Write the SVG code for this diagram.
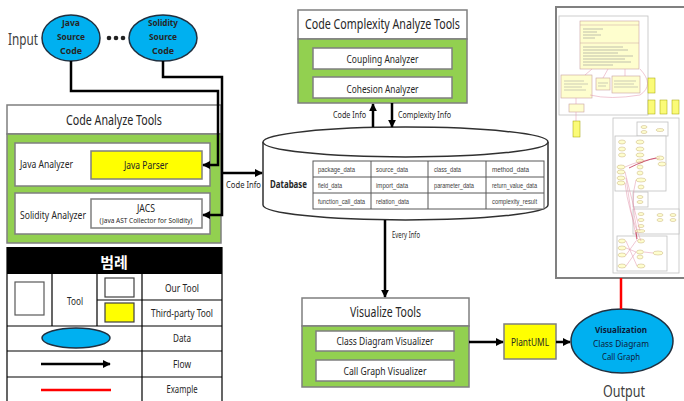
<svg xmlns="http://www.w3.org/2000/svg" width="684" height="401" viewBox="0 0 684 401">
<defs>
<marker id="ah" viewBox="0 0 10 10" refX="9" refY="5" markerWidth="3.2" markerHeight="3.2" orient="auto" markerUnits="strokeWidth">
<path d="M0,0 L10,5 L0,10 z" fill="#000"/>
</marker>
<style>
text{font-family:"Noto Sans","Noto Sans CJK KR",sans-serif;fill:#262626}
.hdr{fill:#fff;stroke:#7f7f7f;stroke-width:1.5}
.grn{fill:#92d050;stroke:#7f7f7f;stroke-width:1.5}
.box{fill:#fff;stroke:#7f7f7f;stroke-width:1.5}
.yel{fill:#ffff00;stroke:#7f7f7f;stroke-width:1.5}
.ell{fill:#00b0f0;stroke:#203040;stroke-width:1.5}
.flow{fill:none;stroke:#000;stroke-width:2.5;marker-end:url(#ah)}
.lg{stroke:#000;stroke-width:1.2;fill:none}
.cell{font-family:"Liberation Sans",sans-serif;font-size:6.5px;fill:#404040}
.cls{fill:#fefece;stroke:#c8a0a0;stroke-width:0.6}
.note{fill:#fbfb77;stroke:#a0a000;stroke-width:0.5}
.pan{fill:#fff;stroke:#c0c0c0;stroke-width:0.8}
.uc{fill:#fefece;stroke:#c8b080;stroke-width:0.5}
.ed{fill:none;stroke:#e090a8;stroke-width:0.5}
.vz{fill:#0d1b3a}
</style>
</defs>

<!-- Input -->
<g id="input-label"><text x="8" y="45" font-size="17" textLength="30" lengthAdjust="spacingAndGlyphs" style="fill:#404040">Input</text></g>
<g id="java-source">
<ellipse class="ell" cx="71" cy="38" rx="29" ry="23"/>
<text x="71" y="26" font-size="9.5" font-weight="bold" text-anchor="middle" textLength="18" lengthAdjust="spacingAndGlyphs">Java</text>
<text x="71" y="40" font-size="9.5" font-weight="bold" text-anchor="middle" textLength="28" lengthAdjust="spacingAndGlyphs">Source</text>
<text x="71" y="54" font-size="9.5" font-weight="bold" text-anchor="middle" textLength="22" lengthAdjust="spacingAndGlyphs">Code</text>
</g>
<g id="dots"><circle cx="109" cy="38" r="2.3" fill="#222"/><circle cx="116" cy="38" r="2.3" fill="#222"/><circle cx="123" cy="38" r="2.3" fill="#222"/></g>
<g id="solidity-source">
<ellipse class="ell" cx="163" cy="38" rx="34" ry="23"/>
<text x="163" y="26" font-size="9.5" font-weight="bold" text-anchor="middle" textLength="30" lengthAdjust="spacingAndGlyphs">Solidity</text>
<text x="163" y="40" font-size="9.5" font-weight="bold" text-anchor="middle" textLength="28" lengthAdjust="spacingAndGlyphs">Source</text>
<text x="163" y="54" font-size="9.5" font-weight="bold" text-anchor="middle" textLength="22" lengthAdjust="spacingAndGlyphs">Code</text>
</g>

<!-- Code Analyze Tools -->
<g id="code-analyze-tools">
<rect class="hdr" x="7" y="105" width="214" height="29"/>
<text x="114" y="125" font-size="14" text-anchor="middle" textLength="96" lengthAdjust="spacingAndGlyphs">Code Analyze Tools</text>
<rect class="grn" x="7" y="134" width="214" height="109"/>
<rect class="box" x="15" y="143" width="195" height="43"/>
<text x="20" y="168" font-size="10.5" textLength="53" lengthAdjust="spacingAndGlyphs">Java Analyzer</text>
<rect class="yel" x="91" y="151" width="111" height="28"/>
<text x="146" y="169" font-size="10.5" text-anchor="middle" textLength="44" lengthAdjust="spacingAndGlyphs">Java Parser</text>
<rect class="box" x="15" y="193" width="195" height="41"/>
<text x="20" y="219" font-size="10.5" textLength="66" lengthAdjust="spacingAndGlyphs">Solidity Analyzer</text>
<rect class="box" x="91" y="199" width="111" height="29"/>
<text x="146" y="212" font-size="10" text-anchor="middle" textLength="18" lengthAdjust="spacingAndGlyphs">JACS</text>
<text x="146" y="223" font-size="7" text-anchor="middle" textLength="93" lengthAdjust="spacingAndGlyphs">(Java AST Collector for Solidity)</text>
</g>

<!-- Legend -->
<g id="legend">
<rect x="7" y="247" width="215" height="27" fill="#000"/>
<text x="114" y="268" font-size="15" font-weight="bold" text-anchor="middle" style="fill:#fff;font-family:'Noto Sans CJK KR',sans-serif">범례</text>
<path class="lg" d="M7,247 V402 M222,247 V402 M7,326 H222 M7,351 H222 M7,377 H222 M52,274 V326 M97,274 V326 M142,274 V402 M97,300 H222"/>
<rect x="15" y="282" width="29" height="33" fill="#fff" stroke="#595959" stroke-width="1.2"/>
<rect x="105" y="278" width="29" height="19" fill="#fff" stroke="#404040" stroke-width="1.2"/>
<rect x="105" y="303" width="29" height="19" fill="#ffff00" stroke="#404040" stroke-width="1.2"/>
<ellipse class="ell" cx="76" cy="338" rx="34" ry="10"/>
<line x1="41" y1="364" x2="110" y2="364" class="flow"/>
<line x1="41" y1="390" x2="111" y2="390" stroke="#ff0000" stroke-width="2.5"/>
<text x="75" y="305" font-size="10" text-anchor="middle" textLength="16" lengthAdjust="spacingAndGlyphs">Tool</text>
<text x="182" y="292" font-size="10" text-anchor="middle" textLength="34" lengthAdjust="spacingAndGlyphs">Our Tool</text>
<text x="182" y="317" font-size="10" text-anchor="middle" textLength="62" lengthAdjust="spacingAndGlyphs">Third-party Tool</text>
<text x="182" y="342" font-size="10" text-anchor="middle" textLength="18" lengthAdjust="spacingAndGlyphs">Data</text>
<text x="182" y="368" font-size="10" text-anchor="middle" textLength="18" lengthAdjust="spacingAndGlyphs">Flow</text>
<text x="182" y="393" font-size="10" text-anchor="middle" textLength="31" lengthAdjust="spacingAndGlyphs">Example</text>
</g>

<!-- Code Complexity Analyze Tools -->
<g id="code-complexity-tools">
<rect class="hdr" x="298" y="10" width="169" height="29"/>
<text x="382.5" y="29" font-size="14" text-anchor="middle" textLength="155" lengthAdjust="spacingAndGlyphs">Code Complexity Analyze Tools</text>
<rect class="grn" x="298" y="39" width="169" height="64"/>
<rect class="box" x="313" y="48" width="139" height="21"/>
<text x="382.5" y="63" font-size="10.5" text-anchor="middle" textLength="72" lengthAdjust="spacingAndGlyphs">Coupling Analyzer</text>
<rect class="box" x="313" y="77" width="139" height="21"/>
<text x="382.5" y="93" font-size="10.5" text-anchor="middle" textLength="72" lengthAdjust="spacingAndGlyphs">Cohesion Analyzer</text>
</g>

<!-- Database -->
<g id="database">
<path d="M263,142 L263,205 A142.5,15 0 0 0 548,205 L548,142" fill="#fff" stroke="#303030" stroke-width="1.5"/>
<ellipse cx="405.5" cy="142" rx="142.5" ry="15" fill="#fff" stroke="#303030" stroke-width="1.5"/>
<text x="270" y="188" font-size="10.5" font-weight="bold" textLength="37" lengthAdjust="spacingAndGlyphs">Database</text>
<rect x="313" y="161" width="231" height="48" fill="#fff" stroke="#595959" stroke-width="1"/>
<path d="M313,177 H544 M313,193 H544 M371,161 V209 M428,161 V209 M486,161 V209" stroke="#595959" stroke-width="1" fill="none"/>
<text class="cell" x="318" y="172" textLength="37" lengthAdjust="spacingAndGlyphs">package_data</text>
<text class="cell" x="376" y="172" textLength="32" lengthAdjust="spacingAndGlyphs">source_data</text>
<text class="cell" x="434" y="172" textLength="27" lengthAdjust="spacingAndGlyphs">class_data</text>
<text class="cell" x="492" y="172" textLength="37" lengthAdjust="spacingAndGlyphs">method_data</text>
<text class="cell" x="318" y="188" textLength="24" lengthAdjust="spacingAndGlyphs">field_data</text>
<text class="cell" x="376" y="188" textLength="32" lengthAdjust="spacingAndGlyphs">import_data</text>
<text class="cell" x="434" y="188" textLength="40" lengthAdjust="spacingAndGlyphs">parameter_data</text>
<text class="cell" x="492" y="188" textLength="45" lengthAdjust="spacingAndGlyphs">return_value_data</text>
<text class="cell" x="318" y="204" textLength="47" lengthAdjust="spacingAndGlyphs">function_call_data</text>
<text class="cell" x="376" y="204" textLength="33" lengthAdjust="spacingAndGlyphs">relation_data</text>
<text class="cell" x="492" y="204" textLength="45" lengthAdjust="spacingAndGlyphs">complexity_result</text>
</g>

<!-- Visualize Tools -->
<g id="visualize-tools">
<rect class="hdr" x="302" y="298" width="167" height="28"/>
<text x="385.5" y="317" font-size="14" text-anchor="middle" textLength="71" lengthAdjust="spacingAndGlyphs">Visualize Tools</text>
<rect class="grn" x="302" y="326" width="167" height="61"/>
<rect class="box" x="316" y="331" width="138" height="20"/>
<text x="385" y="345" font-size="10.5" text-anchor="middle" textLength="97" lengthAdjust="spacingAndGlyphs">Class Diagram Visualizer</text>
<rect class="box" x="316" y="360" width="138" height="21"/>
<text x="385" y="375" font-size="10.5" text-anchor="middle" textLength="83" lengthAdjust="spacingAndGlyphs">Call Graph Visualizer</text>
</g>

<g id="plantuml">
<rect x="504" y="324" width="52" height="35" fill="#ffff00" stroke="#7f7f7f" stroke-width="1.5"/>
<text x="530" y="346" font-size="10" text-anchor="middle" textLength="38" lengthAdjust="spacingAndGlyphs">PlantUML</text>
</g>

<g id="visualization">
<ellipse cx="622" cy="341" rx="51" ry="32" fill="#00b0f0" stroke="#203040" stroke-width="1.5"/>
<text class="vz" x="621" y="333" font-size="9.5" font-weight="bold" text-anchor="middle" textLength="52" lengthAdjust="spacingAndGlyphs">Visualization</text>
<text class="vz" x="621" y="346.5" font-size="9.5" text-anchor="middle" textLength="56" lengthAdjust="spacingAndGlyphs">Class Diagram</text>
<text class="vz" x="621" y="360" font-size="9.5" text-anchor="middle" textLength="38" lengthAdjust="spacingAndGlyphs">Call Graph</text>
</g>
<g id="output-label"><text x="624" y="397" font-size="16" text-anchor="middle" textLength="42" lengthAdjust="spacingAndGlyphs" style="fill:#404040">Output</text></g>

<!-- Screenshot example -->
<g id="screenshot">
<rect x="556" y="7" width="130" height="271" fill="#fff" stroke="#808080" stroke-width="2"/>
<rect class="pan" x="559" y="16" width="89" height="99"/>
<rect class="cls" x="580" y="21" width="59" height="48"/>
<line x1="580" y1="25" x2="639" y2="25" stroke="#c8a0a0" stroke-width="0.5"/>
<line x1="580" y1="43" x2="639" y2="43" stroke="#c8a0a0" stroke-width="0.5"/>
<path d="M583,29 h20 M583,32 h14 M583,35 h18 M583,38 h12 M583,47 h40 M583,50 h45 M583,53 h35 M583,56 h50 M583,59 h42 M583,62 h48 M583,65 h30" stroke="#999" stroke-width="0.6"/>
<rect class="cls" x="561" y="75" width="31" height="23"/>
<rect class="cls" x="596" y="78" width="14" height="12"/>
<rect class="cls" x="612" y="76" width="28" height="17"/>
<rect class="cls" x="569" y="104" width="15" height="8"/>
<path class="ed" d="M592,69 L585,75 M608,69 L603,78 M625,69 L625,76 M640,69 Q655,85 640,95 Q610,100 590,95 M576,98 L576,104 M576,112 L576,121"/>
<path d="M564,81 h20 M564,84 h24 M564,87 h18 M564,90 h22 M614,81 h22 M614,84 h20 M614,87 h24 M598,83 h10 M598,86 h8" stroke="#999" stroke-width="0.5"/>
<rect class="note" x="648" y="78" width="7" height="15"/>
<rect class="note" x="648" y="100" width="7" height="14"/>
<rect class="note" x="660" y="100" width="7" height="14"/>
<rect class="note" x="672" y="100" width="7" height="14"/>
<rect class="note" x="573" y="121" width="7" height="16"/>
<rect class="pan" x="613" y="118" width="66" height="155"/>
<rect class="pan" x="637" y="122" width="31" height="14"/>
<ellipse class="uc" cx="644" cy="127" rx="3" ry="1.5"/><ellipse class="uc" cx="644" cy="132" rx="3" ry="1.5"/><ellipse class="uc" cx="660" cy="130" rx="4" ry="1.5"/>
<rect class="pan" x="615" y="136" width="51" height="55"/>
<ellipse class="uc" cx="622" cy="142" rx="3.5" ry="2"/><ellipse class="uc" cx="622" cy="149" rx="3.5" ry="2"/><ellipse class="uc" cx="622" cy="155" rx="3.5" ry="2"/>
<ellipse class="uc" cx="640" cy="142" rx="4" ry="2"/><ellipse class="uc" cx="640" cy="149" rx="4" ry="2"/><ellipse class="uc" cx="640" cy="155" rx="4" ry="2"/>
<ellipse class="uc" cx="640" cy="161" rx="4" ry="2"/><ellipse class="uc" cx="660" cy="158" rx="4" ry="2"/><ellipse class="uc" cx="662" cy="164" rx="4" ry="2"/>
<ellipse class="uc" cx="621" cy="167" rx="4" ry="2"/><ellipse class="uc" cx="621" cy="172" rx="4" ry="2"/><ellipse class="uc" cx="621" cy="178" rx="4" ry="2"/><ellipse class="uc" cx="621" cy="183" rx="4" ry="2"/>
<ellipse class="uc" cx="640" cy="167" rx="3" ry="2"/><ellipse class="uc" cx="640" cy="173" rx="3" ry="2"/><ellipse class="uc" cx="641" cy="180" rx="5" ry="2"/><ellipse class="uc" cx="641" cy="187" rx="3" ry="2"/>
<rect class="pan" x="633" y="192" width="15" height="15"/>
<ellipse class="uc" cx="640" cy="197" rx="3" ry="1.5"/><ellipse class="uc" cx="640" cy="202" rx="3" ry="1.5"/>
<rect class="pan" x="633" y="209" width="46" height="25"/>
<ellipse class="uc" cx="641" cy="214" rx="3" ry="1.5"/><ellipse class="uc" cx="641" cy="220" rx="3" ry="1.5"/><ellipse class="uc" cx="641" cy="226" rx="3" ry="1.5"/>
<ellipse class="uc" cx="660" cy="215" rx="3" ry="1.5"/><ellipse class="uc" cx="660" cy="220" rx="3" ry="1.5"/><ellipse class="uc" cx="673" cy="215" rx="3" ry="1.5"/><ellipse class="uc" cx="673" cy="220" rx="3" ry="1.5"/>
<ellipse class="uc" cx="640" cy="231" rx="5" ry="1.5"/>
<rect class="pan" x="617" y="236" width="50" height="35"/>
<ellipse class="uc" cx="622" cy="241" rx="3.5" ry="2"/><ellipse class="uc" cx="622" cy="248" rx="4" ry="2"/><ellipse class="uc" cx="622" cy="255" rx="4" ry="2"/><ellipse class="uc" cx="622" cy="266" rx="4" ry="2"/>
<ellipse class="uc" cx="641" cy="241" rx="3.5" ry="2"/><ellipse class="uc" cx="640" cy="252" rx="3.5" ry="2"/><ellipse class="uc" cx="640" cy="257" rx="3" ry="2"/><ellipse class="uc" cx="658" cy="253" rx="5" ry="2"/><ellipse class="uc" cx="641" cy="266" rx="4" ry="2"/>
<path class="ed" d="M625,167 Q640,160 660,158 M625,172 Q632,200 640,231 M626,178 Q630,210 637,241 M625,183 Q628,210 641,241 M636,180 Q630,200 637,230 M626,248 L636,252 M626,255 L636,241 M626,266 L636,252 M644,252 L653,253 M626,241 L637,266"/>
<path d="M629,168 Q645,160 656,158" stroke="#c03050" stroke-width="0.8" fill="none"/>
<path d="M636,232 L637,239" stroke="#c03050" stroke-width="0.8" fill="none"/>
</g>

<!-- Connectors -->
<g id="connectors">
<path class="flow" d="M71,61 V91 H218 V165 H203"/>
<path class="flow" d="M163,61 V77 H222 V215 H203"/>
<line class="flow" x1="221" y1="173" x2="262" y2="173"/>
<text x="226" y="188" font-size="8.5" textLength="35" lengthAdjust="spacingAndGlyphs">Code Info</text>
<line class="flow" x1="373" y1="127" x2="373" y2="104"/>
<line class="flow" x1="392" y1="103" x2="392" y2="127"/>
<text x="366" y="118" font-size="8.5" text-anchor="end" textLength="33" lengthAdjust="spacingAndGlyphs">Code Info</text>
<text x="398" y="118" font-size="8.5" textLength="53" lengthAdjust="spacingAndGlyphs">Complexity Info</text>
<line class="flow" x1="385" y1="220" x2="385" y2="297"/>
<text x="392" y="238" font-size="8.5" textLength="28" lengthAdjust="spacingAndGlyphs">Every Info</text>
<line class="flow" x1="469" y1="342" x2="503" y2="342"/>
<line class="flow" x1="556" y1="342" x2="570" y2="342"/>
<line x1="621" y1="278" x2="621" y2="309" stroke="#ff0000" stroke-width="2.5"/>
</g>
</svg>
